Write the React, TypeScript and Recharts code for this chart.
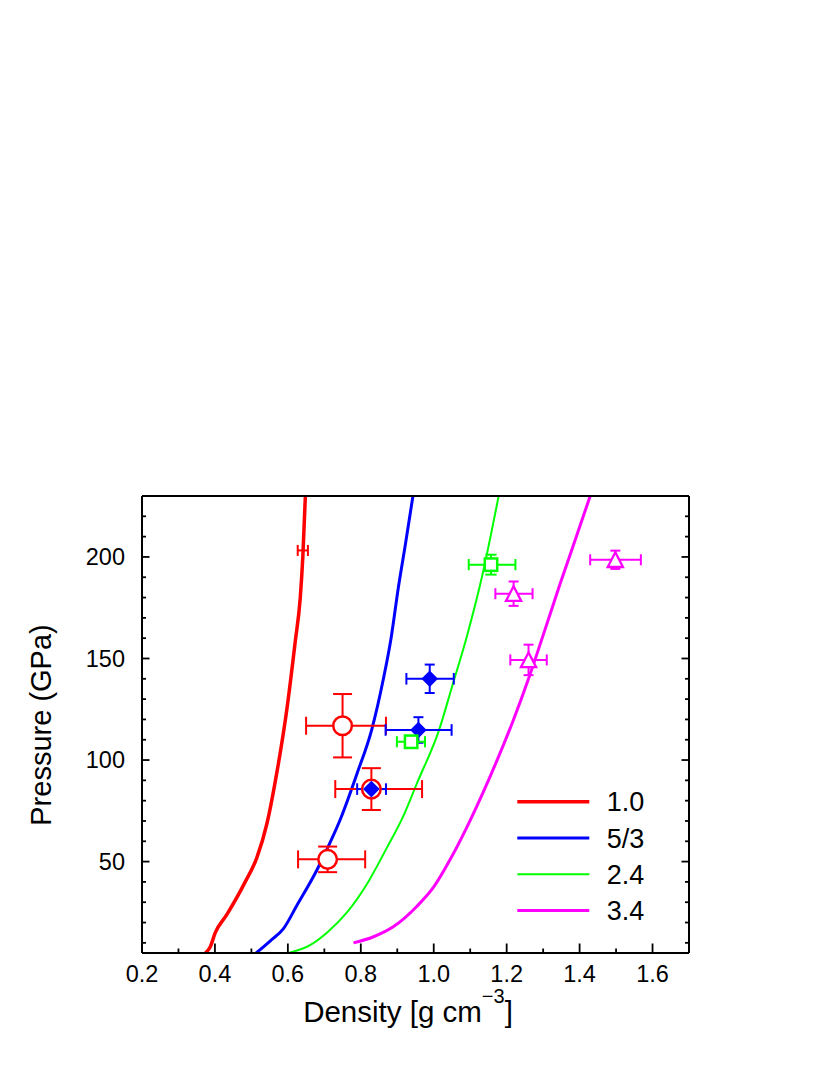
import React from "react";
import {
  ComposedChart,
  ErrorBar,
  Legend,
  Line,
  Scatter,
  XAxis,
  YAxis,
} from "recharts";

const FONT = "'Liberation Sans', Arial, Helvetica, sans-serif";

// plot frame (px), used only to draw the inward ticks
const PLOT = { left: 142, right: 689, top: 496, bottom: 953 };

// axis ticks
const X_TICKS = [0.2, 0.3, 0.4, 0.5, 0.6, 0.7, 0.8, 0.9, 1.0, 1.1, 1.2, 1.3, 1.4, 1.5, 1.6];
const X_LABELED = [0.2, 0.4, 0.6, 0.8, 1.0, 1.2, 1.4, 1.6];
const Y_TICKS = [10, 20, 30, 40, 50, 60, 70, 80, 90, 100, 110, 120, 130, 140, 150, 160, 170, 180, 190, 200, 210, 220];
const Y_LABELED = [50, 100, 150, 200];

// model curves: density (g/cm3) -> pressure (GPa)
const CURVE_NAMES = ["1.0", "5/3", "2.4", "3.4"];
const CURVE_COLORS = ["#ff0000", "#0000ff", "#00ff00", "#ff00ff"];
const CURVE_WIDTHS = [3.5, 3, 2, 3];

const RED_D = [0.374, 0.387, 0.401, 0.433, 0.483, 0.515, 0.543, 0.566, 0.598, 0.62, 0.634, 0.641, 0.648];
const RED_P = [5, 8, 15, 24, 40, 52, 69, 90, 126, 158, 180, 200, 230];

const BLUE_D = [0.513, 0.552, 0.588, 0.625, 0.68, 0.725, 0.742, 0.79, 0.83, 0.862, 0.883, 0.903, 0.923, 0.943];
const BLUE_P = [5, 11, 17, 28.5, 46, 63, 70, 93.5, 115, 140, 160, 185, 207, 230];

const GREEN_D = [0.602, 0.662, 0.707, 0.762, 0.817, 0.872, 0.913, 0.955, 1.015, 1.05, 1.091, 1.132, 1.178];
const GREEN_P = [5, 9, 15, 25, 39, 57, 71, 89, 115, 136, 161, 190, 230];

const MAG_D = [0.78, 0.835, 0.89, 0.954, 1.0, 1.045, 1.091, 1.15, 1.219, 1.26, 1.301, 1.347, 1.393, 1.429];
const MAG_P = [10, 13, 18, 28, 37.5, 51, 67, 90, 120, 140, 162, 187, 211, 230];

// measurements with error bars
const RC_D = [0.709, 0.75, 0.829];
const RC_P = [51.1, 116.9, 85.7];
const RC_DERR = [[0.081, 0.103], [0.1, 0.119], [0.099, 0.139]];
const RC_PERR = [6.3, 15.6, 10.3];

const RS_D = [0.641];
const RS_P = [203.2];
const RS_DERR = [0.014];

const BD_D = [0.829, 0.958, 0.989];
const BD_P = [85.7, 114.8, 140];
const BD_DERR = [[0.039, 0.04], [0.09, 0.091], [0.064, 0.066]];
const BD_PERR = [3, 6.3, 7];

const GS_D = [0.938, 1.157];
const GS_P = [109, 196.2];
const GS_DERR = [[0.039, 0.038], [0.061, 0.067]];
const GS_PERR = [2, 4.9];

const MT_D = [1.498, 1.219, 1.26];
const MT_P = [198.6, 181.9, 149.3];
const MT_DERR = [[0.069, 0.07], [0.05, 0.052], [0.05, 0.05]];
const MT_PERR = [4.5, 6, 7.5];

const curve = (ds: number[], ps: number[]) => ds.map((d, i) => ({ d, p: ps[i] }));
const points = (ds: number[], ps: number[], de: any[], pe?: number[]) =>
  ds.map((d, i) => ({ d, p: ps[i], dErr: de[i], pErr: pe ? pe[i] : 0 }));

const CURVES = [curve(RED_D, RED_P), curve(BLUE_D, BLUE_P), curve(GREEN_D, GREEN_P), curve(MAG_D, MAG_P)];

const renderXTick = (pos: "bottom" | "top") => (props: any) => {
  const { x, payload } = props;
  const major = X_LABELED.includes(payload.value);
  const len = major ? 9.5 : 4.5;
  const y0 = pos === "bottom" ? PLOT.bottom : PLOT.top;
  const y1 = pos === "bottom" ? y0 - len : y0 + len;
  return (
    <g>
      <line x1={x} x2={x} y1={y0} y2={y1} stroke="#000" strokeWidth={1.8} />
      {pos === "bottom" && major && (
        <text x={x} y={982} textAnchor="middle" fontSize={23.5} fontFamily={FONT} fill="#000">
          {payload.value.toFixed(1)}
        </text>
      )}
    </g>
  );
};

const renderYTick = (pos: "left" | "right") => (props: any) => {
  const { y, payload } = props;
  const major = Y_LABELED.includes(payload.value);
  const len = major ? 7.5 : 4;
  const x0 = pos === "left" ? PLOT.left : PLOT.right;
  const x1 = pos === "left" ? x0 + len : x0 - len;
  return (
    <g>
      <line x1={x0} x2={x1} y1={y} y2={y} stroke="#000" strokeWidth={1.8} />
      {pos === "left" && major && (
        <text x={125} y={y + 8.4} textAnchor="end" fontSize={23.5} fontFamily={FONT} fill="#000">
          {payload.value}
        </text>
      )}
    </g>
  );
};

const XTitle = () => (
  <text x={408} y={1021.7} textAnchor="middle" fontSize={29.5} fontFamily={FONT} fill="#000">
    Density [g cm
    <tspan dy={-19} fontSize={20}>−3</tspan>
    <tspan dy={19}>]</tspan>
  </text>
);

const YTitle = () => (
  <text
    x={50.5}
    y={725}
    transform="rotate(-90 50.5 725)"
    textAnchor="middle"
    fontSize={29}
    fontFamily={FONT}
    fill="#000"
  >
    Pressure (GPa)
  </text>
);

const renderLegend = () => (
  <svg width={160} height={150}>
    {CURVE_NAMES.map((name, i) => {
      const y = 23.7 + i * 36.3;
      return (
        <g key={name}>
          <line x1={9.3} x2={81.3} y1={y} y2={y} stroke={CURVE_COLORS[i]} strokeWidth={CURVE_WIDTHS[i]} />
          <text x={98.7} y={y + 9.7} fontSize={27} fontFamily={FONT} fill="#000">
            {name}
          </text>
        </g>
      );
    })}
  </svg>
);

const openCircle = (props: any) => (
  <circle cx={props.cx} cy={props.cy} r={9.3} fill="#fff" stroke="#ff0000" strokeWidth={2.5} />
);
const noMarker = () => <g />;
const filledDiamond = (props: any) => {
  const { cx, cy } = props;
  const h = 8.3;
  return <polygon points={`${cx},${cy - h} ${cx + h},${cy} ${cx},${cy + h} ${cx - h},${cy}`} fill="#0000ff" />;
};
const openSquare = (props: any) => (
  <rect x={props.cx - 6.2} y={props.cy - 6.2} width={12.4} height={12.4} fill="#fff" stroke="#00ff00" strokeWidth={2.5} />
);
const openTriangle = (props: any) => {
  const { cx, cy } = props;
  return (
    <polygon
      points={`${cx},${cy - 7.5} ${cx + 7.6},${cy + 7.2} ${cx - 7.6},${cy + 7.2}`}
      fill="#fff"
      stroke="#ff00ff"
      strokeWidth={2.3}
    />
  );
};

const axisLine = { stroke: "#000", strokeWidth: 2 };

export default function App() {
  return (
    <div style={{ position: "absolute", left: 0, top: 0, background: "#fff" }}>
      <ComposedChart width={830} height={1075} margin={{ top: 486, right: 131, bottom: 62, left: 0 }}>
        <XAxis
          type="number"
          dataKey="d"
          domain={[0.2, 1.7]}
          ticks={X_TICKS}
          interval={0}
          allowDataOverflow
          tickLine={false}
          axisLine={axisLine}
          tick={renderXTick("bottom")}
          height={60}
          label={{ content: XTitle }}
        />
        <XAxis
          xAxisId="top"
          orientation="top"
          type="number"
          domain={[0.2, 1.7]}
          ticks={X_TICKS}
          interval={0}
          allowDataOverflow
          tickLine={false}
          axisLine={axisLine}
          tick={renderXTick("top")}
          height={10}
        />
        <YAxis
          type="number"
          dataKey="p"
          domain={[5, 230]}
          ticks={Y_TICKS}
          interval={0}
          allowDataOverflow
          tickLine={false}
          axisLine={axisLine}
          tick={renderYTick("left")}
          width={142}
          label={{ content: YTitle }}
        />
        <YAxis
          yAxisId="right"
          orientation="right"
          type="number"
          domain={[5, 230]}
          ticks={Y_TICKS}
          interval={0}
          allowDataOverflow
          tickLine={false}
          axisLine={axisLine}
          tick={renderYTick("right")}
          width={10}
        />
        <Legend
          layout="vertical"
          verticalAlign="middle"
          align="center"
          wrapperStyle={{ left: 508, top: 778, width: 160, height: 150 }}
          content={renderLegend}
        />
        {CURVES.map((data, i) => (
          <Line
            key={CURVE_NAMES[i]}
            name={CURVE_NAMES[i]}
            data={data}
            dataKey="p"
            type="monotone"
            stroke={CURVE_COLORS[i]}
            strokeWidth={CURVE_WIDTHS[i]}
            dot={false}
            activeDot={false}
            isAnimationActive={false}
          />
        ))}
        <Scatter data={points(RS_D, RS_P, RS_DERR)} dataKey="p" shape={noMarker} legendType="none" isAnimationActive={false}>
          <ErrorBar dataKey="dErr" direction="x" width={5.5} stroke="#ff0000" strokeWidth={2} isAnimationActive={false} />
        </Scatter>
        <Scatter data={points(RC_D, RC_P, RC_DERR, RC_PERR)} dataKey="p" shape={openCircle} legendType="none" isAnimationActive={false}>
          <ErrorBar dataKey="dErr" direction="x" width={9} stroke="#ff0000" strokeWidth={2} isAnimationActive={false} />
          <ErrorBar dataKey="pErr" direction="y" width={9.5} stroke="#ff0000" strokeWidth={2} isAnimationActive={false} />
        </Scatter>
        <Scatter data={points(BD_D, BD_P, BD_DERR, BD_PERR)} dataKey="p" shape={filledDiamond} legendType="none" isAnimationActive={false}>
          <ErrorBar dataKey="dErr" direction="x" width={5.8} stroke="#0000ff" strokeWidth={2} isAnimationActive={false} />
          <ErrorBar dataKey="pErr" direction="y" width={5} stroke="#0000ff" strokeWidth={2} isAnimationActive={false} />
        </Scatter>
        <Scatter data={points(GS_D, GS_P, GS_DERR, GS_PERR)} dataKey="p" shape={openSquare} legendType="none" isAnimationActive={false}>
          <ErrorBar dataKey="dErr" direction="x" width={5.6} stroke="#00ff00" strokeWidth={2} isAnimationActive={false} />
          <ErrorBar dataKey="pErr" direction="y" width={5.6} stroke="#00ff00" strokeWidth={2} isAnimationActive={false} />
        </Scatter>
        <Scatter data={points(MT_D, MT_P, MT_DERR, MT_PERR)} dataKey="p" shape={openTriangle} legendType="none" isAnimationActive={false}>
          <ErrorBar dataKey="dErr" direction="x" width={5.5} stroke="#ff00ff" strokeWidth={2} isAnimationActive={false} />
          <ErrorBar dataKey="pErr" direction="y" width={5} stroke="#ff00ff" strokeWidth={2} isAnimationActive={false} />
        </Scatter>
      </ComposedChart>
    </div>
  );
}
